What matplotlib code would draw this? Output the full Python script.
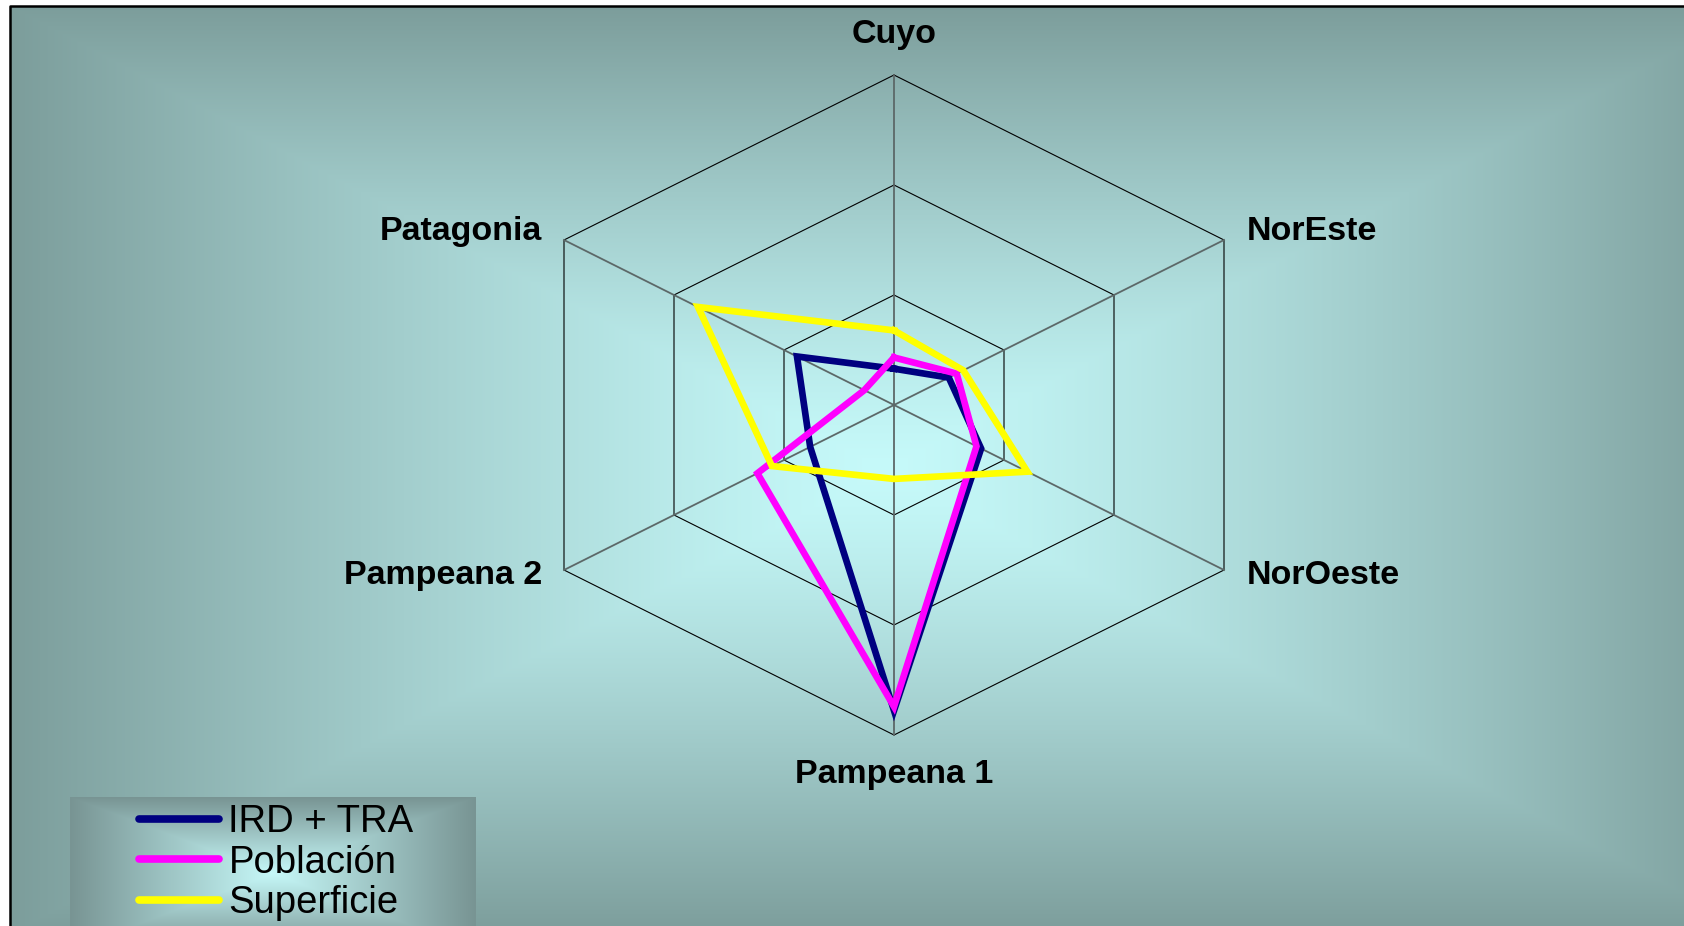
import numpy as np
import matplotlib
matplotlib.use("Agg")
import matplotlib.pyplot as plt
from matplotlib.lines import Line2D

# categories, clockwise from the top
categories = ["Cuyo", "NorEste", "NorOeste", "Pampeana 1", "Pampeana 2", "Patagonia"]

# shares in %
ird_tra = [5.5, 8.3, 13.2, 46.3, 12.7, 14.7]
poblacion = [7.2, 9.5, 12.5, 45.7, 20.7, 4.5]
superficie = [11.3, 10.5, 20.2, 11.2, 18.5, 29.7]

series_names = ["IRD + TRA", "Población", "Superficie"]
series_colors = ["#000080", "#FF00FF", "#FFFF00"]

r_max = 50.0
rings = [50 / 3, 100 / 3, 50.0]

W, H = 1684, 926
fig = plt.figure(figsize=(W / 100, H / 100), dpi=100)

# ---- background: rectangular "from centre" gradient
bg = fig.add_axes([0, 0, 1, 1])
bg.axis("off")


def rect_gradient(x0, x1, y0, y1, c_in, c_out, power=1.0):
    xs = np.arange(int(x0), int(x1)) + 0.5
    ys = np.arange(int(y0), int(y1)) + 0.5
    X, Y = np.meshgrid(xs, ys)
    cx = (x0 + x1) / 2
    cy = (y0 + y1) / 2
    t = np.maximum(np.abs(X - cx) / (x1 - cx), np.abs(Y - cy) / (y1 - cy))
    t = np.clip(t, 0, 1) ** power
    t = t[..., None]
    c_in = np.array(c_in) / 255
    c_out = np.array(c_out) / 255
    return c_in * (1 - t) + c_out * t


img = rect_gradient(10, 1760, 6, 934, (198, 250, 250), (124, 157, 155), power=1.25)
bg.imshow(img, extent=(10, 1760, 934, 6), interpolation="bilinear", zorder=0)
bg.plot([10, 10, W + 5], [H + 5, 6, 6], color="black", lw=1.8, zorder=1)

# legend box
leg_img = rect_gradient(70, 476, 797, 950, (198, 248, 248), (120, 148, 147))
bg.imshow(leg_img, extent=(70, 476, 950, 797), interpolation="bilinear", zorder=1)
bg.set_xlim(0, W)
bg.set_ylim(H, 0)

# ---- radar in cartesian axes (the chart is stretched horizontally)
cx_px, cy_px = 894, 405
px_y = 330 / r_max            # pixels per unit, vertical
px_x = 110 / (rings[0] * np.sin(np.pi / 3))  # pixels per unit, horizontal

ax = fig.add_axes([0, 0, 1, 1])
ax.set_xlim(-cx_px / px_x, (W - cx_px) / px_x)
ax.set_ylim(-(H - cy_px) / px_y, cy_px / px_y)
ax.patch.set_alpha(0)
ax.axis("off")

theta = np.arange(len(categories)) * 2 * np.pi / len(categories)


def to_xy(vals):
    v = np.array(list(vals) + [vals[0]])
    th = np.append(theta, theta[0])
    return v * np.sin(th), v * np.cos(th)


for r in rings:
    gx, gy = to_xy([r] * len(categories))
    ax.plot(gx, gy, color="black", lw=0.8, zorder=2)
for th in theta:
    ax.plot([0, r_max * np.sin(th)], [0, r_max * np.cos(th)], color="#5c6868", lw=1.3, zorder=2)

for vals, c in zip([ird_tra, poblacion, superficie], series_colors):
    sx, sy = to_xy(vals)
    ax.plot(sx, sy, color=c, lw=4.8, solid_joinstyle="miter", zorder=3)

label_offsets = [(0, 32, "center"), (23, 0, "left"), (23, -14, "left"),
                 (0, -48, "center"), (-22, -14, "right"), (-22, 0, "right")]
for name, th, (ox, oy, ha) in zip(categories, theta, label_offsets):
    ax.annotate(name, xy=(r_max * np.sin(th), r_max * np.cos(th)),
                xytext=(ox, oy), textcoords="offset pixels",
                ha=ha, va="baseline", fontsize=24.5, fontweight="bold",
                family="Liberation Sans", color="black", zorder=4)

handles = [Line2D([], [], color=c, lw=5.5, solid_capstyle="round") for c in series_colors]
leg = fig.legend(handles, series_names, loc="upper left",
                 bbox_to_anchor=(139 / W, 1 - 804 / H), frameon=False,
                 prop={"family": "Liberation Sans", "size": 27.5},
                 handlelength=2.1, handletextpad=0.24, labelspacing=0.12,
                 borderpad=0, borderaxespad=0)

fig.savefig("out.png", dpi=100)
